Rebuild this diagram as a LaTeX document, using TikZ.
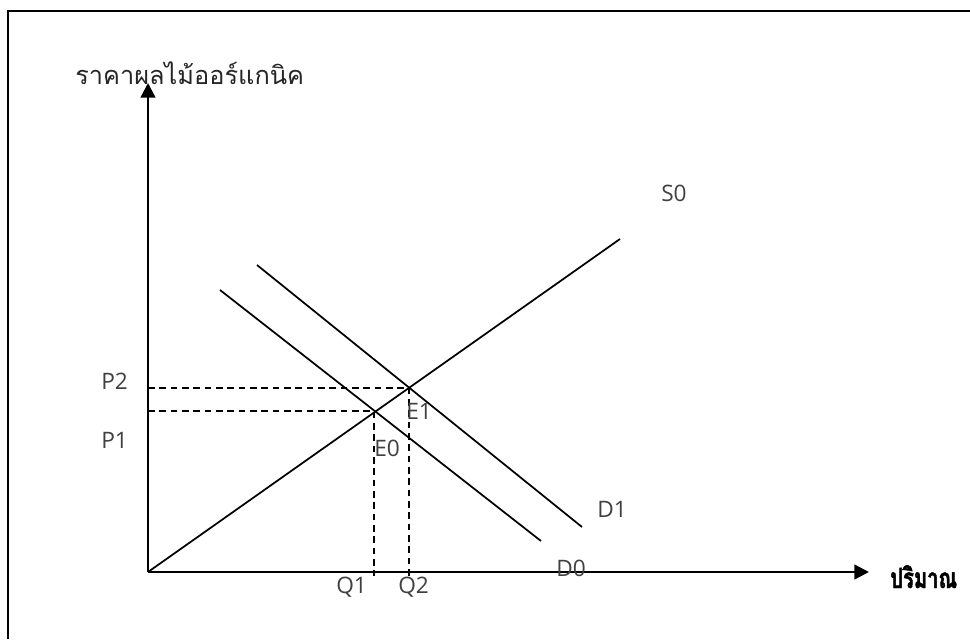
\documentclass[tikz,border=0pt]{standalone}
\usepackage{fontspec}
\setmainfont{Loma}[Script=Thai]
\newfontfamily\thaicond{Loma}[Script=Thai, FakeStretch=0.72, FakeBold=1.5]
\newfontfamily\latinlbl{Open Sans}
\usetikzlibrary{arrows.meta,calc}
\tikzset{
  axis/.style ={-{Triangle[length=11pt,width=11pt]}, line width=1.8pt},
  curve/.style={line width=1.3pt},
  guide/.style={line width=1.2pt, dash pattern=on 5pt off 3.5pt},
  lbl/.style  ={anchor=base west, inner sep=0pt, text=black!75,
                font=\latinlbl\fontsize{17}{20}\selectfont},
}
\begin{document}
\begin{tikzpicture}[x=0.75pt,y=-0.75pt]
  \useasboundingbox (0,0) rectangle (970,639);
  \draw[line width=1pt] (970,11) -- (8,11) -- (8,639);

  % axes
  \coordinate (O) at (148,572);
  \coordinate (ytop) at (148,83);
  \coordinate (xend) at (869,572);
  \draw[axis] (O) -- (ytop);
  \draw[axis] (O) -- (xend);
  \node[anchor=base west, inner sep=0pt, text=black!85,
        font=\fontsize{19}{23}\selectfont]
    (ylab) at (75,84) {ราคาผลไม้ออร์แกนิค};
  \node[anchor=base west, inner sep=0pt,
        font=\thaicond\fontsize{21}{24}\selectfont\bfseries]
    (xlab) at (890,588) {ปริมาณ};

  % supply and demand
  \coordinate (s0end) at (620,239);
  \coordinate (d0a) at (220,290);
  \coordinate (d0b) at (541,541);
  \coordinate (d1a) at (257,265);
  \coordinate (d1b) at (582,527);
  \draw[curve] (O) -- (s0end);
  \draw[curve] (d0a) -- (d0b);
  \draw[curve] (d1a) -- (d1b);

  % equilibria
  \coordinate (e0) at (374,411);
  \coordinate (e1) at (409,388);
  \draw[guide] (O |- e1) -- (e1) -- ($(e1 |- O)+(0,4)$);
  \draw[guide] (O |- e0) -- (e0) -- ($(e0 |- O)+(0,4)$);

  \node[lbl] (p2) at (101,389) {P2};
  \node[lbl] (p1) at (101,448) {P1};
  \node[lbl] (e1lab) at (406,419) {E1};
  \node[lbl] (e0lab) at (374,456) {E0};
  \node[lbl] (q1) at (336,593) {Q1};
  \node[lbl] (q2) at (398,593) {Q2};
  \node[lbl] (d0) at (556,576) {D0};
  \node[lbl] (d1) at (597,517) {D1};
  \node[lbl] (s0) at (661,201) {S0};
\end{tikzpicture}
\end{document}
